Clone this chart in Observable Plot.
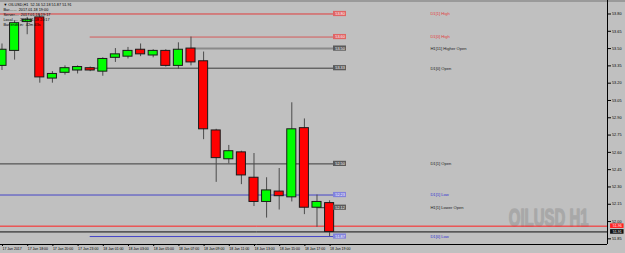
<!DOCTYPE html>
<html>
<head>
<meta charset="utf-8">
<script src="https://cdn.jsdelivr.net/npm/d3@7"></script>
<script src="https://cdn.jsdelivr.net/npm/@observablehq/plot@0.6"></script>
<style>
  html, body { margin: 0; padding: 0; background: #c0c0c0; }
  svg { display: block; }
</style>
</head>
<body>
<div id="chart"></div>
<script>
// ---- data ----
const opens  = [53.35, 53.48, 53.73, 53.77, 53.24, 53.29, 53.31, 53.33, 53.30, 53.42, 53.43, 53.49, 53.44, 53.48, 53.35, 53.50, 53.39, 52.79, 52.54, 52.60, 52.38, 52.17, 52.26, 52.21, 52.81, 52.12, 52.16];
const highs  = [53.54, 53.74, 53.77, 53.79, 53.30, 53.35, 53.35, 53.34, 53.42, 53.50, 53.51, 53.54, 53.49, 53.49, 53.55, 53.60, 53.47, 52.80, 52.66, 52.61, 52.59, 52.38, 52.46, 53.03, 52.89, 52.23, 52.18];
const lows   = [53.31, 53.40, 53.62, 53.20, 53.20, 53.27, 53.28, 53.30, 53.26, 53.38, 53.41, 53.43, 53.42, 53.34, 53.32, 53.35, 52.71, 52.34, 52.50, 52.32, 52.13, 52.03, 52.10, 52.17, 52.06, 51.95, 51.87];
const closes = [53.49, 53.72, 53.75, 53.25, 53.28, 53.33, 53.34, 53.31, 53.41, 53.45, 53.48, 53.45, 53.48, 53.35, 53.49, 53.38, 52.80, 52.55, 52.61, 52.40, 52.17, 52.27, 52.22, 52.80, 52.12, 52.17, 51.91];

const timeTickBars = [0, 2, 4, 6, 8, 10, 12, 14, 16, 18, 20, 22, 24, 26];
const timeLabels = ["17 Jan 2017", "17 Jan 18:00", "17 Jan 20:00", "17 Jan 23:00", "18 Jan 01:00", "18 Jan 03:00", "18 Jan 05:00", "18 Jan 07:00", "18 Jan 09:00", "18 Jan 11:00", "18 Jan 13:00", "18 Jan 15:00", "18 Jan 17:00", "18 Jan 19:00"];
const priceTicks = [53.80, 53.65, 53.50, 53.35, 53.20, 53.05, 52.90, 52.75, 52.60, 52.45, 52.30, 52.15, 52.00, 51.85];

const levelNames  = ["D1[1] High", "D1[0] High", "H1[11] Higher Open", "D1[0] Open", "D1[1] Open", "D1[1] Low", "H1[1] Lower Open", "D1[0] Low"];
const levelPrices = [53.80, 53.60, 53.50, 53.33, 52.50, 52.23, 52.12, 51.87];
const levelStartBar = [null, 7, 15, 7, null, null, 25, 7];   // null = from left edge
const levelLineColors = ["#e03c3c", "#d45a5a", "#8a8a8a", "#3c3c3c", "#3c3c3c", "#4646c8", "#3c3c3c", "#4646c8"];
const levelLineWidths = [1, 1, 2, 1, 1, 1, 1, 1];
const levelBoxColors  = ["#e06464", "#e06464", "#5a5a5a", "#5a5a5a", "#5a5a5a", "#8282dc", "#5a5a5a", "#8282dc"];
const levelTextColors = ["#e03c3c", "#e03c3c", "#202020", "#202020", "#202020", "#3232d2", "#202020", "#3232d2"];

const askPrice = 51.96, bidPrice = 51.91;
const infoLines = ["\u25BC OILUSD,H1  52.16 52.18 51.87 51.91", "Bar.......  2017.01.18 19:00", "Server....  2017.01.18 19:17", "Local.....  2017.01.18 20:17", "Bar ends in:  42m 43s"];
const watermark = "OILUSD H1";

// ---- scale setup (chart area: 0..607 x 0..244) ----
const XMIN = -0.119, XMAX = 48.056;
const YTOP = 53.917, YBOT = 51.801;
const BOX_X1 = 26.31, BOX_X2 = 27.34, BOX_XC = 26.83, LABEL_X = 34.0;
const HALF = 0.36;

const bars = opens.map((o, i) => ({i, o, h: highs[i], l: lows[i], c: closes[i]}));
const levels = levelNames.map((name, k) => ({
  name, p: levelPrices[k], start: levelStartBar[k] == null ? XMIN : levelStartBar[k],
  line: levelLineColors[k], w: levelLineWidths[k], box: levelBoxColors[k], txt: levelTextColors[k]
}));
const quotes = [{p: askPrice, fill: "#ff2020"}, {p: bidPrice, fill: "#101010"}];

const FONT = "'Liberation Sans', Arial, sans-serif";

const plot = Plot.plot({
  width: 625, height: 253,
  marginLeft: 0, marginRight: 18, marginTop: 0, marginBottom: 9,
  x: {domain: [XMIN, XMAX], range: [0, 607], axis: null},
  y: {domain: [YTOP, YBOT], range: [0, 244], axis: null},
  style: {background: "#c0c0c0", fontFamily: FONT, color: "#000", overflow: "visible"},
  marks: [
    // watermark
    Plot.text([watermark], {frameAnchor: "bottom-right", dx: -19, dy: -19, lineAnchor: "bottom", textAnchor: "end",
      fontSize: 23, fontWeight: "bold", fill: "#a8a8a8", stroke: "#a8a8a8", strokeWidth: 1.3, className: "wm"}),
    // level lines
    ...levels.map(d => Plot.ruleY([d], {y: "p", x1: "start", x2: BOX_X1, stroke: d.line, strokeWidth: d.w})),
    // ask / bid lines
    Plot.ruleY(quotes, {y: "p", x1: XMIN, x2: XMAX, stroke: "fill", strokeWidth: 1}),
    // wicks
    Plot.ruleX(bars, {x: "i", y1: "l", y2: "h", stroke: "#4a4a4a", strokeWidth: 1}),
    // bodies
    Plot.rect(bars, {x1: d => d.i - HALF, x2: d => d.i + HALF, y1: "o", y2: "c",
      fill: d => d.c >= d.o ? "#00ff00" : "#ff0000", stroke: "#1a1a1a", strokeWidth: 1}),
    // level price boxes
    Plot.rect(levels, {x1: BOX_X1, x2: BOX_X2, y1: "p", y2: "p", insetTop: -2.6, insetBottom: -2.6, fill: "box"}),
    Plot.text(levels, {x: BOX_XC, y: "p", text: d => d.p.toFixed(2), fill: "#ffffff", fontSize: 3.8}),
    // level labels
    Plot.text(levels, {x: LABEL_X, y: "p", text: "name", fill: "txt", fontSize: 4.1, textAnchor: "start"}),
    // axes
    Plot.ruleX([XMAX], {stroke: "#000", strokeWidth: 1}),
    Plot.ruleY([YBOT], {stroke: "#000", strokeWidth: 1}),
    Plot.axisX(timeTickBars, {anchor: "bottom", tickSize: 2, tickPadding: 0.5, textAnchor: "start", dx: 0.5,
      tickFormat: d => timeLabels[timeTickBars.indexOf(d)], fontSize: 3.5, fill: "#000", stroke: "#000"}),
    Plot.axisY(priceTicks, {anchor: "right", tickSize: 3, tickPadding: 1.5, tickFormat: d => d.toFixed(2),
      fontSize: 3.8, fill: "#000"}),
    // quote boxes on the price axis
    Plot.rect(quotes, {x1: 48.3, x2: 49.37, y1: "p", y2: "p", insetTop: -2.3, insetBottom: -2.3, fill: "fill"}),
    Plot.text(quotes, {x: 48.83, y: "p", text: d => d.p.toFixed(2), fill: "#ffffff", fontSize: 3.6}),
    // info text
    Plot.text([infoLines.join("\n")], {frameAnchor: "top-left", dx: 3, dy: 2, lineAnchor: "top", textAnchor: "start",
      lineHeight: 1.3, fontSize: 3.8, fill: "#000"})
  ]
});

const svg = d3.select(plot);
svg.selectAll(".wm text").each(function () {
  const t = d3.select(this);
  const x = +(t.attr("x") || 0), y = +(t.attr("y") || 0);
  t.attr("x", null).attr("y", null)
   .attr("transform", (t.attr("transform") || "") + ` translate(${x},${y}) scale(0.65,1)`);
});
svg.insert("rect", ":first-child").attr("x", 0).attr("y", 0).attr("width", 625).attr("height", 2).attr("fill", "#9a9a9a");
document.getElementById("chart").appendChild(plot);
</script>
</body>
</html>
